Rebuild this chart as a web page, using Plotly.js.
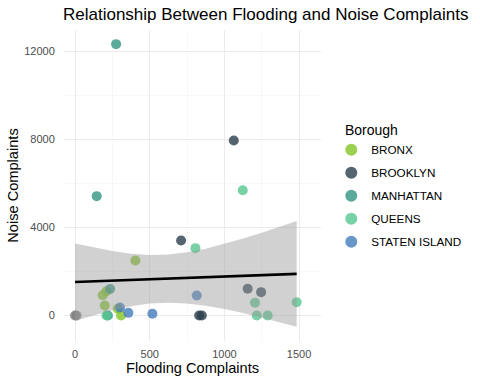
<!DOCTYPE html>
<html>
<head>
<meta charset="utf-8">
<script src="https://cdn.plot.ly/plotly-3.0.1.min.js"></script>
<style>html,body{margin:0;padding:0;background:#fff;}#chart{width:480px;height:384px;}</style>
</head>
<body>
<div id="chart"></div>
<script>
// Data
const boroughs = ["BRONX", "BROOKLYN", "MANHATTAN", "QUEENS", "STATEN ISLAND"];
const bronxFlood = [404, 185, 199, 210, 286, 308];
const bronxNoise = [2500, 923, 455, 1100, 305, 0];
const brooklynFlood = [1063, 710, 831, 849, 1156, 1246];
const brooklynNoise = [7955, 3409, 0, 0, 1212, 1060];
const manhattanFlood = [275, 145, 235, 220];
const manhattanNoise = [12332, 5423, 1200, 0];
const queensFlood = [1123, 806, 210, 1205, 1217, 1290, 1484];
const queensNoise = [5695, 3060, 0, 576, 0, 0, 605];
const statenFlood = [301, 357, 518, 815];
const statenNoise = [364, 120, 80, 910];
const otherFlood = [0, 10];
const otherNoise = [0, 0];

// Linear fit and confidence band
const fitX = [0, 125, 250, 375, 500, 625, 750, 875, 1000, 1125, 1250, 1375, 1484];
const fitY = [1520, 1551, 1582, 1614, 1645, 1676, 1707, 1739, 1770, 1801, 1832, 1864, 1891];
const fitUpper = [3277, 3086, 2925, 2808, 2751, 2771, 2869, 3035, 3248, 3494, 3761, 4045, 4299];
const fitLower = [-237, 16, 239, 420, 539, 581, 545, 443, 292, 108, -97, -317, -517];

const xTicks = [0, 500, 1000, 1500];
const yTicks = [0, 4000, 8000, 12000];

const colors = ["#83C424", "#2A3F4C", "#319582", "#56C78F", "#447CBA"];
const seriesX = [bronxFlood, brooklynFlood, manhattanFlood, queensFlood, statenFlood];
const seriesY = [bronxNoise, brooklynNoise, manhattanNoise, queensNoise, statenNoise];

const traces = [];
traces.push({
  x: otherFlood, y: otherNoise, type: 'scatter', mode: 'markers',
  marker: {color: '#7f7f7f', size: 10, opacity: 0.8, line: {width: 0}},
  showlegend: false, hoverinfo: 'skip'
});
boroughs.forEach((b, i) => {
  traces.push({
    x: seriesX[i], y: seriesY[i], type: 'scatter', mode: 'markers', name: b,
    legendgroup: b,
    marker: {color: colors[i], size: 10, opacity: 0.8, line: {width: 0}}
  });
});
// ribbon
traces.push({
  x: fitX.concat(fitX.slice().reverse()),
  y: fitUpper.concat(fitLower.slice().reverse()),
  type: 'scatter', mode: 'lines', fill: 'toself',
  fillcolor: 'rgba(153,153,153,0.45)', line: {width: 0, color: 'rgba(0,0,0,0)'},
  showlegend: false, hoverinfo: 'skip'
});
traces.push({
  x: fitX, y: fitY, type: 'scatter', mode: 'lines',
  line: {color: '#000000', width: 2.6}, showlegend: false
});

const layout = {
  width: 480, height: 384,
  paper_bgcolor: '#ffffff', plot_bgcolor: '#ffffff',
  margin: {l: 64, r: 159, t: 30, b: 43},
  font: {family: 'Liberation Sans, Arial, sans-serif', color: '#000'},
  title: {
    text: 'Relationship Between Flooding and Noise Complaints',
    font: {size: 17, color: '#000'},
    x: 63 / 480, xanchor: 'left', xref: 'container', y: 0.963, yanchor: 'middle'
  },
  xaxis: {
    range: [-74, 1647], tickvals: xTicks, ticktext: xTicks.map(String),
    showgrid: true, gridcolor: '#ebebeb', gridwidth: 1, zeroline: false,
    showline: false, ticks: 'outside', ticklen: 3, tickcolor: 'rgba(0,0,0,0)',
    tickfont: {size: 11, color: '#4d4d4d'},
    minor: {tickvals: [250, 750, 1250], showgrid: true, gridcolor: '#f3f3f3', gridwidth: 0.6},
    title: {text: 'Flooding Complaints', font: {size: 14.6, color: '#000'}, standoff: 3}
  },
  yaxis: {
    range: [-1160, 12975], tickvals: yTicks, ticktext: yTicks.map(String),
    showgrid: true, gridcolor: '#ebebeb', gridwidth: 1, zeroline: false,
    showline: false, ticks: 'outside', ticklen: 6, tickcolor: 'rgba(0,0,0,0)',
    tickfont: {size: 11, color: '#4d4d4d'},
    minor: {tickvals: [2000, 6000, 10000], showgrid: true, gridcolor: '#f3f3f3', gridwidth: 0.6},
    title: {text: 'Noise Complaints', font: {size: 14.6, color: '#000'}, standoff: 2}
  },
  legend: {
    x: 1.04, xanchor: 'left', y: 0.72, yanchor: 'top',
    title: {text: '&nbsp;&nbsp;&nbsp;Borough', font: {size: 14, color: '#000'}},
    font: {size: 11.7, color: '#000'},
    traceorder: 'grouped', tracegroupgap: 4,
    itemsizing: 'constant', bgcolor: 'rgba(0,0,0,0)'
  },
  showlegend: true
};

Plotly.newPlot('chart', traces, layout, {displayModeBar: false, staticPlot: true});
</script>
</body>
</html>
